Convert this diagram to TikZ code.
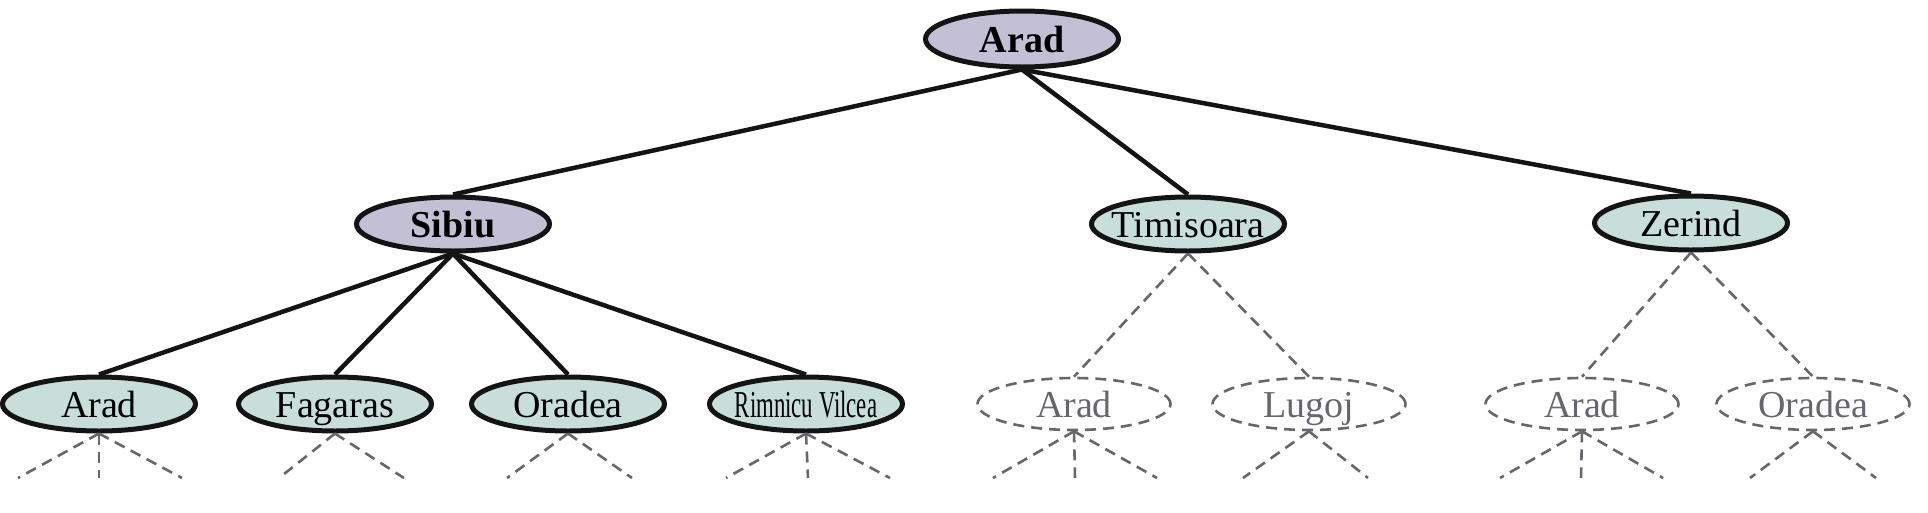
\documentclass[tikz,border=0pt]{standalone}
\usepackage{fontspec}
\setmainfont{Liberation Serif}
\usetikzlibrary{shapes.geometric}
\definecolor{expanded}{HTML}{C3BFD5}
\definecolor{frontier}{HTML}{C7DEDA}
\definecolor{ghost}{HTML}{66666F}
\definecolor{ink}{HTML}{141414}
\begin{document}
\begin{tikzpicture}[x=1pt,y=-1pt,
  city/.style={ellipse, minimum width=193pt, minimum height=54pt, inner sep=0pt,
    text height=26pt, text depth=0pt, font=\fontsize{38}{40}\selectfont},
  done/.style={city, draw=ink, line width=5pt, fill=expanded},
  front/.style={city, draw=ink, line width=5pt, fill=frontier},
  unseen/.style={city, minimum height=52pt, draw=ghost, line width=2.6pt, dash pattern=on 11pt off 7pt, text=ghost},
  tree/.style={draw=ink, line width=4.5pt},
  ghostedge/.style={draw=ghost, line width=2.6pt, dash pattern=on 11pt off 7pt}]
\path[use as bounding box] (0,0) rectangle (1928,512);

% nodes
\node[done, minimum height=56pt] (A0) at (1022,39)  {\makebox[0pt]{\bfseries Arad}};
\node[done]   (S)  at (453,224)  {\makebox[0pt]{\bfseries Sibiu}};
\node[front]  (T)  at (1188,224) {\makebox[0pt]{Timisoara}};
\node[front]  (Z)  at (1691,223) {\makebox[0pt]{Zerind}};

\node[front]  (SA) at (99,404)   {\makebox[0pt]{Arad}};
\node[front]  (SF) at (335,404)  {\makebox[0pt]{Fagaras}};
\node[front]  (SO) at (568,404)  {\makebox[0pt]{Oradea}};
\node[front]  (SR) at (806,404)  {\makebox[0pt]{\scalebox{0.6}[1]{Rimnicu Vilcea}}};
\node[unseen] (TA) at (1074,404) {\makebox[0pt]{Arad}};
\node[unseen] (TL) at (1309,404) {\makebox[0pt]{Lugoj}};
\node[unseen] (ZA) at (1582,404) {\makebox[0pt]{Arad}};
\node[unseen] (ZO) at (1813,404) {\makebox[0pt]{Oradea}};

% solid tree edges
\draw[tree] (A0.south) -- (S.north);
\draw[tree] (A0.south) -- (T.north);
\draw[tree] (A0.south) -- (Z.north);
\draw[tree] (S.south) -- (SA.north);
\draw[tree] (S.south) -- (SF.north);
\draw[tree] (S.south) -- (SO.north);
\draw[tree] (S.south) -- (SR.north);

% dashed edges to unexpanded successors
\draw[ghostedge] (T.south) -- (TA.north);
\draw[ghostedge] (T.south) -- (TL.north);
\draw[ghostedge] (Z.south) -- (ZA.north);
\draw[ghostedge] (Z.south) -- (ZO.north);

% stub ends
\coordinate (SA1) at (18,478);   \coordinate (SA2) at (99,478);   \coordinate (SA3) at (182,478);
\coordinate (SF1) at (279,478);  \coordinate (SF2) at (404,478);
\coordinate (SO1) at (507,478);  \coordinate (SO2) at (632,478);
\coordinate (SR1) at (726,478);  \coordinate (SR2) at (808,478);  \coordinate (SR3) at (890,478);
\coordinate (TA1) at (993,478);  \coordinate (TA2) at (1075,478); \coordinate (TA3) at (1157,478);
\coordinate (TL1) at (1243,478); \coordinate (TL2) at (1368,478);
\coordinate (ZA1) at (1500,478); \coordinate (ZA2) at (1581,478); \coordinate (ZA3) at (1663,478);
\coordinate (ZO1) at (1750,478); \coordinate (ZO2) at (1876,478);

\foreach \n in {SA,SR,TA,ZA} {
  \draw[ghostedge] (\n.south) -- (\n1);
  \draw[ghostedge] (\n.south) -- (\n2);
  \draw[ghostedge] (\n.south) -- (\n3);
}
\foreach \n in {SF,SO,TL,ZO} {
  \draw[ghostedge] (\n.south) -- (\n1);
  \draw[ghostedge] (\n.south) -- (\n2);
}
\end{tikzpicture}
\end{document}
